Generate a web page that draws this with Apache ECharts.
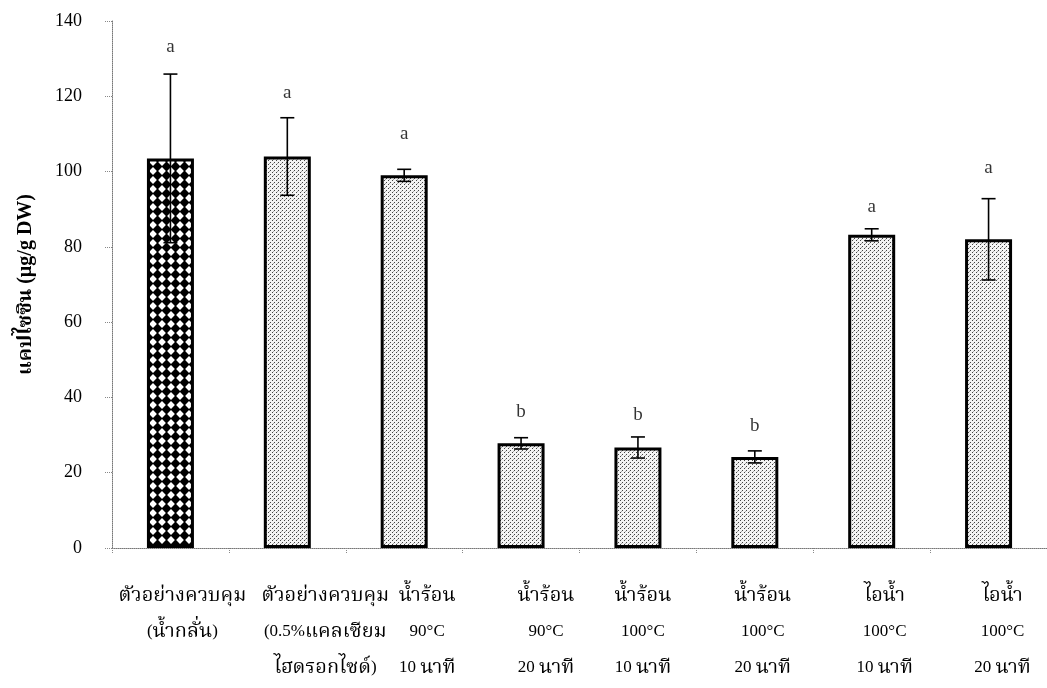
<!DOCTYPE html>
<html>
<head>
<meta charset="utf-8">
<script src="https://cdn.jsdelivr.net/npm/echarts@6/dist/echarts.min.js"></script>
<style>
html,body{margin:0;padding:0;background:#fff;}
#chart{width:1047px;height:688px;}
</style>
</head>
<body>
<div id="chart"></div>
<script>
// ---- data ----
const labelLine1 = ['ตัวอย่างควบคุม', 'ตัวอย่างควบคุม', 'น้ำร้อน', 'น้ำร้อน', 'น้ำร้อน', 'น้ำร้อน', 'ไอน้ำ', 'ไอน้ำ'];
const labelLine2 = ['(น้ำกลั่น)', '(0.5%แคลเซียม', '90°C', '90°C', '100°C', '100°C', '100°C', '100°C'];
const labelLine3 = ['', 'ไฮดรอกไซด์)', '10 นาที', '20 นาที', '10 นาที', '20 นาที', '10 นาที', '20 นาที'];
const means = [103.5, 104, 99, 27.8, 26.7, 24.2, 83.2, 82];
const sds = [22.4, 10.3, 1.6, 1.5, 2.8, 1.6, 1.6, 10.8];
const letters = ['a', 'a', 'a', 'b', 'b', 'b', 'a', 'a'];
const letterPos = [133, 121, 110, 36.2, 35.3, 32.5, 90.7, 101];
const yTicks = [0, 20, 40, 60, 80, 100, 120, 140];
const yName = 'แคปไซซิน (µg/g DW)';

// ---- styling helpers ----
const labelShift = [12, 38, 23, 25, 5, 8, 13, 14];
const SERIF = '"Liberation Serif", "Noto Serif Thai", "Noto Sans Thai", "DejaVu Serif", serif';

function diamondPattern() {
  const c = document.createElement('canvas');
  c.width = 9; c.height = 9;
  const g = c.getContext('2d');
  g.fillStyle = '#fff'; g.fillRect(0, 0, 9, 9);
  g.fillStyle = '#000';
  g.beginPath();
  g.moveTo(4.5, -0.6); g.lineTo(9.6, 4.5); g.lineTo(4.5, 9.6); g.lineTo(-0.6, 4.5);
  g.closePath(); g.fill();
  return c;
}
function stipplePattern() {
  const c = document.createElement('canvas');
  c.width = 4; c.height = 4;
  const g = c.getContext('2d');
  g.fillStyle = '#f4f4f4'; g.fillRect(0, 0, 4, 4);
  g.fillStyle = '#444';
  g.fillRect(0, 0, 1, 1);
  g.fillRect(2, 2, 1, 1);
  g.fillStyle = '#aaa';
  g.fillRect(1, 3, 1, 1);
  return c;
}
const diamond = { image: diamondPattern(), repeat: 'repeat' };
const stipple = { image: stipplePattern(), repeat: 'repeat' };

const categories = labelLine1.map((_, i) => i);
const THAI = /[\u0E00-\u0E7F]/;
function richLine(text, idx) {
  const parts = text.split(/([\u0E00-\u0E7F]+)/).filter(s => s !== '');
  return '{s' + idx + '| }' + parts.map(s => (THAI.test(s) ? '{t|' : '{n|') + s + '}').join('');
}
const rich = {
  t: { fontFamily: SERIF, fontSize: 20, color: '#000', lineHeight: 36 },
  n: { fontFamily: SERIF, fontSize: 17, color: '#000', lineHeight: 36 }
};
labelShift.forEach((s, i) => {
  rich['s' + i] = { fontSize: 17, lineHeight: 36, width: 2 * s, color: 'rgba(0,0,0,0)' };
});

const chart = echarts.init(document.getElementById('chart'), null, { renderer: 'canvas' });
const option = {
  backgroundColor: '#fff',
  animation: false,
  grid: { left: 112, top: 21, width: 944, height: 527, containLabel: false },
  xAxis: {
    type: 'category',
    data: categories,
    axisLine: { show: true, lineStyle: { color: '#777', type: 'dotted', width: 1 } },
    axisTick: { show: true, alignWithLabel: false, length: 5, lineStyle: { color: '#888', type: 'dotted' } },
    axisLabel: {
      interval: 0,
      margin: 30,
      formatter: function (v, idx) {
        const lines = [labelLine1[idx], labelLine2[idx], labelLine3[idx]].filter(t => t !== '');
        return lines.map(t => richLine(t, idx)).join('\n');
      },
      rich: rich,
      verticalAlign: 'top'
    },
    splitLine: { show: false }
  },
  yAxis: {
    type: 'value',
    min: 0, max: 140, interval: 20,
    name: yName,
    nameLocation: 'middle',
    nameGap: 76,
    nameRotate: 90,
    nameTextStyle: { fontFamily: SERIF, fontSize: 20, fontWeight: 'bold', color: '#000' },
    axisLine: { show: true, lineStyle: { color: '#777', type: 'dotted', width: 1 } },
    axisTick: { show: true, length: 8, lineStyle: { color: '#888', type: 'dotted' } },
    axisLabel: {
      margin: 30,
      fontFamily: SERIF, fontSize: 18, color: '#000',
      formatter: v => yTicks.includes(v) ? String(v) : ''
    },
    splitLine: { show: false }
  },
  series: [
    {
      type: 'bar',
      data: means.map((m, i) => ({ value: m, itemStyle: { color: i === 0 ? diamond : stipple } })),
      barWidth: 47,
      itemStyle: { borderColor: '#000', borderWidth: 3 },
      z: 2
    },
    {
      type: 'custom',
      data: means.map((m, i) => [i, m, sds[i]]),
      renderItem: function (params, api) {
        const x = api.coord([api.value(0), 0])[0];
        const top = api.coord([api.value(0), api.value(1) + api.value(2)])[1];
        const bot = api.coord([api.value(0), api.value(1) - api.value(2)])[1];
        const hw = 7;
        const style = { stroke: '#000', lineWidth: 1.6, fill: null };
        return {
          type: 'group',
          children: [
            { type: 'line', shape: { x1: x, y1: top, x2: x, y2: bot }, style: style },
            { type: 'line', shape: { x1: x - hw, y1: top, x2: x + hw, y2: top }, style: style },
            { type: 'line', shape: { x1: x - hw, y1: bot, x2: x + hw, y2: bot }, style: style }
          ]
        };
      },
      z: 5
    },
    {
      type: 'scatter',
      data: letterPos.map((y, i) => [i, y]),
      symbolSize: 0,
      label: {
        show: true,
        position: 'inside',
        formatter: p => letters[p.dataIndex],
        fontFamily: SERIF, fontSize: 19, color: '#000'
      },
      z: 6
    }
  ]
};
chart.setOption(option);
</script>
</body>
</html>
